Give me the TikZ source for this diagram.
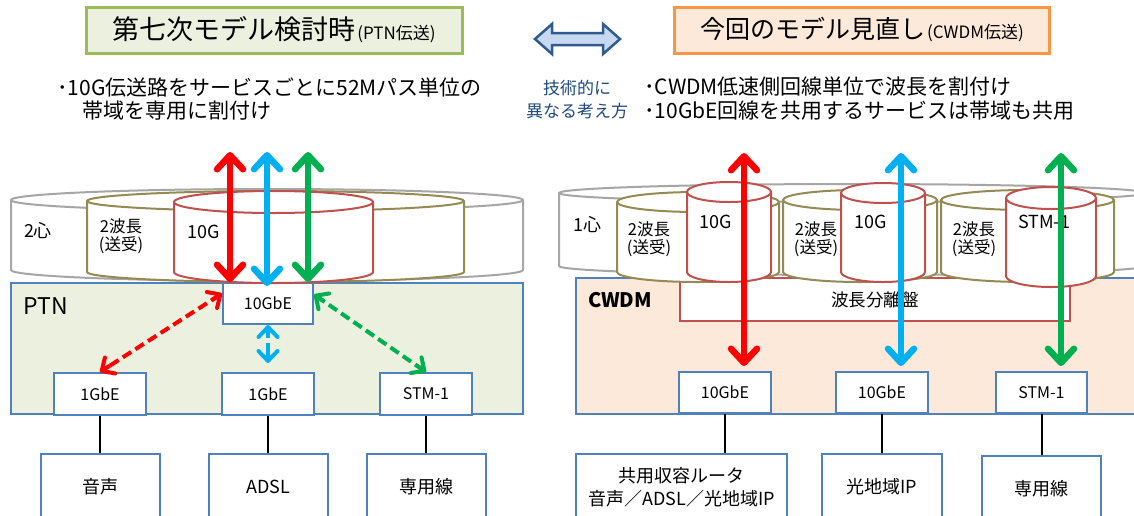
\documentclass[tikz,border=0pt]{standalone}
\usepackage{fontspec}
\setmainfont{Noto Sans CJK JP}
\usetikzlibrary{arrows.meta,calc}
\definecolor{boxblue}{HTML}{4F81BD}
\definecolor{ptnfill}{HTML}{EBF1DE}
\definecolor{cwdmfill}{HTML}{FDE9D9}
\definecolor{titleg}{HTML}{9BBB59}
\definecolor{titleo}{HTML}{F79646}
\definecolor{cylgray}{HTML}{A6A6A6}
\definecolor{cylolive}{HTML}{948A54}
\definecolor{cylred}{HTML}{C0504D}
\definecolor{navy}{HTML}{1F497D}
\definecolor{arrline}{HTML}{2F5B8F}
\definecolor{arrfill}{HTML}{C6D9F1}
\definecolor{aRed}{HTML}{FF0000}
\definecolor{aBlue}{HTML}{00B0F0}
\definecolor{aGreen}{HTML}{00B050}
\newcommand\myfs[1]{\fontsize{#1}{#1}\selectfont}
% cylinder: color, x1, x2, ytop, ybot, ry
\newcommand\mycyl[6]{%
  \pgfmathsetmacro\cylrx{(#3-#2)/2}%
  \filldraw[fill=white,draw=#1,line width=2pt] (#2,#4) -- (#2,#5)
    arc[start angle=180,end angle=0,x radius=\cylrx,y radius=#6] -- (#3,#4)
    arc[start angle=0,end angle=-180,x radius=\cylrx,y radius=#6] -- cycle;
  \draw[draw=#1,line width=2pt] (#2,#4) arc[start angle=180,end angle=0,x radius=\cylrx,y radius=#6];
}
% dashed double arrow with solid heads: colour, start, end
\newcommand\mydash[3]{%
  \draw[dshline,#1] (#2) -- (#3);
  \draw[dshtip,#1] ($(#2)!12pt!(#3)$) -- (#2);
  \draw[dshtip,#1] ($(#3)!12pt!(#2)$) -- (#3);
}
\begin{document}
\begin{tikzpicture}[x=1pt,y=-1pt,
  ifbox/.style={draw=boxblue,line width=2pt,fill=white,inner sep=0pt,font=\myfs{16}},
  svcbox/.style={draw=boxblue,line width=2pt,fill=white,inner sep=0pt,align=center,font=\fontsize{18}{23}\selectfont,minimum height=66pt},
  lbl/.style={inner sep=0pt,font=\myfs{16.5},align=center},
  biglbl/.style={inner sep=0pt,font=\myfs{18}},
  bullet/.style={inner sep=0pt,anchor=west,font=\myfs{21}},
  fat/.style={line width=6.5pt,>={Straight Barb[length=14pt,width=26pt,round]},<->},
  dshline/.style={line width=4pt,dash pattern=on 10pt off 5pt,shorten <=3pt,shorten >=3pt},
  dshtip/.style={line width=4pt,solid,-{Straight Barb[length=10pt,width=19pt,round]}},
  conn/.style={draw=black,line width=2pt}]
\useasboundingbox (0,0) rectangle (1134,515);
\fill[white] (0,0) rectangle (1134,515);

% ---------- header ----------
\node[draw=titleg,fill=ptnfill,line width=3pt,minimum width=376pt,minimum height=46pt,inner sep=0pt] (titleL) at (274,30)
  {\myfs{27}第七次モデル検討時\hspace{2pt}{\myfs{17}(PTN伝送)}};
\node[draw=titleo,fill=cwdmfill,line width=3pt,minimum width=375pt,minimum height=46pt,inner sep=0pt] (titleR) at (862,30)
  {\myfs{25}今回のモデル見直し\hspace{2pt}{\myfs{17}(CWDM伝送)}};
\filldraw[draw=arrline,fill=arrfill,line width=2.5pt,line join=miter]
  (535,39) -- (552,24) -- (552,33) -- (603,33) -- (603,24) -- (620,39) -- (603,54) -- (603,45) -- (552,45) -- (552,54) -- cycle;
\node[inner sep=0pt,text=navy,font=\myfs{17}] (midA) at (577,88) {技術的に};
\node[inner sep=0pt,text=navy,font=\myfs{17}] (midB) at (577,111) {異なる考え方};
\node[bullet] (bL1) at (57,87) {･10G伝送路をサービスごとに52Mパス単位の};
\node[bullet] (bL2) at (82,111) {帯域を専用に割付け};
\node[bullet] (bR1) at (644,87) {･CWDM低速側回線単位で波長を割付け};
\node[bullet] (bR2) at (644,111) {･10GbE回線を共用するサービスは帯域も共用};

% ---------- left: PTN ----------
\node[draw=boxblue,fill=ptnfill,line width=2pt,minimum width=512pt,minimum height=131pt,inner sep=0pt] (ptn) at (267,348.5) {};
\node[inner sep=0pt,font=\myfs{23}] (ptnlbl) at (46,306) {PTN};
\node[ifbox,minimum width=90pt,minimum height=41pt] (g10L) at (268,303.5) {10GbE};
\node[ifbox,minimum width=92pt,minimum height=42pt] (gA) at (100,394) {1GbE};
\node[ifbox,minimum width=92pt,minimum height=42pt] (gB) at (268,394) {1GbE};
\node[ifbox,minimum width=92pt,minimum height=42pt] (gC) at (426,394) {STM-1};
\node[svcbox,minimum width=119pt] (sA) at (100,487) {音声};
\node[svcbox,minimum width=119pt] (sB) at (268,487) {ADSL};
\node[svcbox,minimum width=119pt] (sC) at (426,487) {専用線};
\draw[conn] (gA.south) -- (sA.north);
\draw[conn] (gB.south) -- (sB.north);
\draw[conn] (gC.south) -- (sC.north);

% ---------- right: CWDM ----------
\node[draw=boxblue,fill=cwdmfill,line width=2pt,minimum width=569pt,minimum height=136pt,inner sep=0pt] (cwdm) at (860.5,346) {};
\node[inner sep=0pt,font=\bfseries\myfs{20}] (cwdmlbl) at (620,300) {CWDM};
\node[draw=cylred,fill=white,line width=2pt,minimum width=390pt,minimum height=43pt,inner sep=0pt,font=\myfs{17.5}] (sep) at (875,299.5) {波長分離盤};
\node[ifbox,minimum width=92pt,minimum height=41pt] (hA) at (725,392.5) {10GbE};
\node[ifbox,minimum width=92pt,minimum height=41pt] (hB) at (882,392.5) {10GbE};
\node[ifbox,minimum width=91pt,minimum height=41pt] (hC) at (1041.5,392.5) {STM-1};
\node[svcbox,minimum width=211pt] (tA) at (681.5,487) {共用収容ルータ\\音声／ADSL／光地域IP};
\node[svcbox,minimum width=120pt] (tB) at (882,487) {光地域IP};
\node[svcbox,minimum width=119pt] (tC) at (1041.5,489) {専用線};
\draw[conn] (hA.south) -- (hA.south |- tA.north);
\draw[conn] (hB.south) -- (tB.north);
\draw[conn] (hC.south) -- (hC.south |- tC.north);

% ---------- cylinders left ----------
\mycyl{cylgray}{11}{523}{200}{270}{11}
\mycyl{cylolive}{87}{464}{201}{272}{10}
\mycyl{cylred}{174}{373}{202}{272}{11}
\node[biglbl] (c2core) at (38,231) {2心};
\node[lbl] (cwlL) at (121,236) {2波長\\[2pt](送受)};
\node[biglbl] (c10L) at (204,232) {10G};

% ---------- cylinders right ----------
\mycyl{cylgray}{559}{1145}{193}{266}{9}
\mycyl{cylolive}{617}{779}{202}{272}{10}
\mycyl{cylred}{687}{771}{192}{272}{10}
\mycyl{cylolive}{783}{937}{200}{272}{10}
\mycyl{cylred}{841}{925}{193}{272}{10}
\mycyl{cylolive}{941}{1114}{200}{272}{10}
\mycyl{cylred}{1006}{1096}{198}{276}{11}
\node[biglbl] (c1core) at (587,225) {1心};
\node[lbl] (cwlR1) at (649,239) {2波長\\[2pt](送受)};
\node[lbl] (cwlR2) at (816,239) {2波長\\[2pt](送受)};
\node[lbl] (cwlR3) at (974,239) {2波長\\[2pt](送受)};
\node[biglbl] (c10R1) at (716,222) {10G};
\node[biglbl] (c10R2) at (871,222) {10G};
\node[biglbl] (cstm) at (1044,222) {STM-1};

% ---------- arrows ----------
\coordinate (tRL) at (230,152);
\coordinate (tBL) at (267,152);
\coordinate (tGL) at (308,152);
\draw[fat,aRed] (tRL) -- (tRL |- g10L.north);
\draw[fat,aBlue] (tBL) -- ([yshift=-4pt]tBL |- g10L.north);
\draw[fat,aGreen] (tGL) -- (tGL |- g10L.north);

\coordinate (dRa) at ([yshift=10pt]g10L.west);
\coordinate (dRb) at (gA.north);
\coordinate (dBa) at (g10L.south);
\coordinate (dBb) at ([yshift=9pt]gB.north);
\coordinate (dGa) at ([yshift=9pt]g10L.east);
\coordinate (dGb) at (gC.north);
\mydash{aRed}{dRa}{dRb}
\mydash{aBlue}{dBa}{dBb}
\mydash{aGreen}{dGa}{dGb}

\coordinate (tRR) at (744,153);
\coordinate (tBR) at (901,153);
\coordinate (tGR) at (1061,153);
\draw[fat,aRed] (tRR) -- ([yshift=5pt]tRR |- hA.north);
\draw[fat,aBlue] (tBR) -- ([yshift=5pt]tBR |- hB.north);
\draw[fat,aGreen] (tGR) -- ([yshift=5pt]tGR |- hC.north);
\end{tikzpicture}
\end{document}
